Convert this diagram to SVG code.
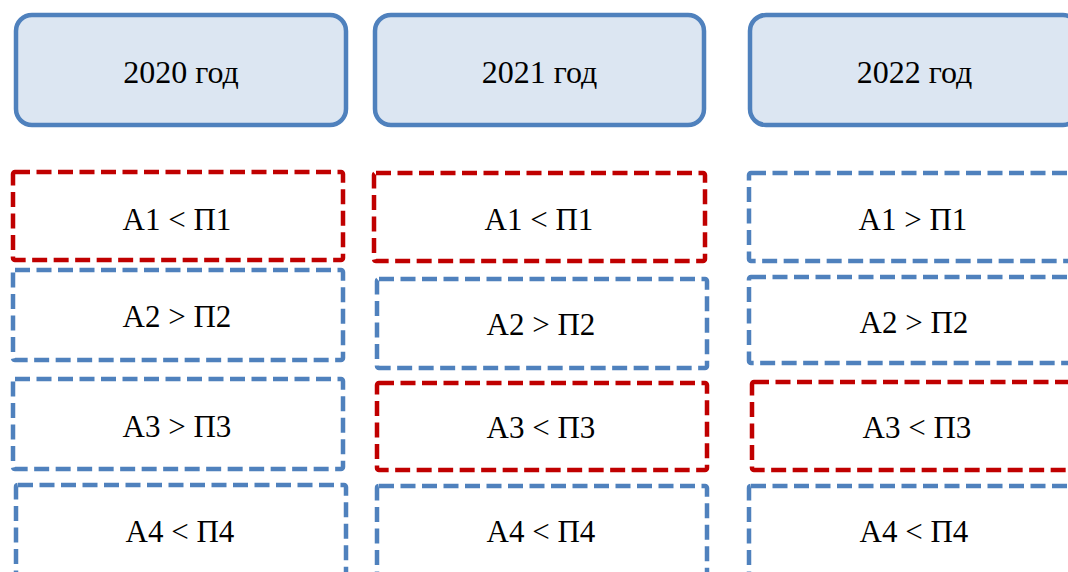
<svg xmlns="http://www.w3.org/2000/svg" width="1068" height="572" viewBox="0 0 1068 572">
<style>
.hdr{fill:#DCE6F2;stroke:#4F81BD;stroke-width:4.5}
.bx{fill:#FFFFFF;stroke-width:4.5;stroke-dasharray:15 6.5}
.blue{stroke:#4F81BD}
.red{stroke:#C00000}
text{font-family:"Liberation Serif","Times New Roman",serif;fill:#000;text-anchor:middle}
.ht{font-size:32px}
.bt{font-size:31px}
</style>
<rect width="1068" height="572" fill="#FFFFFF"/>
<g id="h2020"><rect class="hdr" x="16" y="15" width="330" height="110" rx="16"/><text class="ht" x="181" y="83">2020 год</text></g>
<g id="h2021"><rect class="hdr" x="375" y="15" width="329" height="110" rx="16"/><text class="ht" x="539.5" y="83">2021 год</text></g>
<g id="h2022"><rect class="hdr" x="750" y="15" width="329" height="110" rx="16"/><text class="ht" x="914.5" y="83">2022 год</text></g>

<g id="c1b1"><rect class="bx red" x="13" y="172" width="330" height="88" rx="2"/><text class="bt" x="177" y="230">А1 &lt; П1</text></g>
<g id="c1b2"><rect class="bx blue" x="13" y="270" width="330" height="90" rx="2"/><text class="bt" x="177" y="327">А2 &gt; П2</text></g>
<g id="c1b3"><rect class="bx blue" x="13" y="379" width="330" height="90" rx="2"/><text class="bt" x="177" y="437">А3 &gt; П3</text></g>
<g id="c1b4"><rect class="bx blue" x="16" y="485" width="330" height="110" rx="2"/><text class="bt" x="180" y="542">А4 &lt; П4</text></g>

<g id="c2b1"><rect class="bx red" x="374" y="173" width="331" height="88" rx="2"/><text class="bt" x="539" y="230">А1 &lt; П1</text></g>
<g id="c2b2"><rect class="bx blue" x="377" y="279" width="330" height="89" rx="2"/><text class="bt" x="541" y="335">А2 &gt; П2</text></g>
<g id="c2b3"><rect class="bx red" x="377" y="383" width="330" height="87" rx="2"/><text class="bt" x="541" y="438">А3 &lt; П3</text></g>
<g id="c2b4"><rect class="bx blue" x="377" y="486" width="330" height="110" rx="2"/><text class="bt" x="541" y="542">А4 &lt; П4</text></g>

<g id="c3b1"><rect class="bx blue" x="749" y="173" width="327" height="88" rx="2"/><text class="bt" x="913" y="230">А1 &gt; П1</text></g>
<g id="c3b2"><rect class="bx blue" x="749" y="277" width="327" height="86" rx="2"/><text class="bt" x="914" y="333">А2 &gt; П2</text></g>
<g id="c3b3"><rect class="bx red" x="752" y="382" width="330" height="88" rx="2"/><text class="bt" x="917" y="438">А3 &lt; П3</text></g>
<g id="c3b4"><rect class="bx blue" x="749" y="486" width="330" height="110" rx="2"/><text class="bt" x="914" y="542">А4 &lt; П4</text></g>
<g id="connectors"></g>
</svg>
